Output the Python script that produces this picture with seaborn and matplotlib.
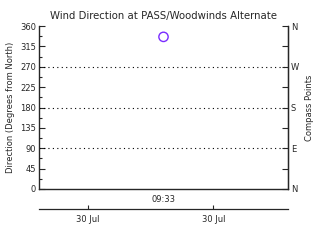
import matplotlib
matplotlib.use("Agg")
import matplotlib.pyplot as plt
import seaborn as sns
import pandas as pd
from matplotlib.ticker import MultipleLocator

# data
obs_minutes = [573]          # 09:33 expressed in minutes after midnight
obs_labels = ["09:33"]
directions = [336]
date_tick_minutes = [566.9, 577.0]
date_tick_labels = ["30 Jul", "30 Jul"]
y_ticks = [0, 45, 90, 135, 180, 225, 270, 315, 360]
compass_ticks = [0, 90, 180, 270, 360]
compass_labels = ["N", "E", "S", "W", "N"]

sns.set_style("ticks")
plt.rcParams['font.family'] = ['DejaVu Sans']

df = pd.DataFrame({"t": obs_minutes, "dir": directions})

fig = plt.figure(figsize=(3.2, 2.4), dpi=100)
ax = fig.add_axes([39/320, 1-189/240, 249/320, 163/240])

sns.scatterplot(data=df, x="t", y="dir", ax=ax, marker="o", s=45,
                facecolor="none", edgecolor="#7a2cff", linewidth=1.0, legend=False)

ax.set_xlim(563, 583)
ax.set_ylim(0, 360)
ax.set_yticks(y_ticks)
ax.yaxis.set_minor_locator(MultipleLocator(22.5))
ax.set_xticks(obs_minutes)
ax.set_xticklabels(obs_labels)
ax.tick_params(axis="x", length=0, labelsize=6, pad=4)
ax.tick_params(axis="y", which="major", direction="in", length=4, labelsize=6, pad=2, width=0.8)
ax.tick_params(axis="y", which="minor", direction="in", length=2, width=0.8)
for v in [90, 180, 270]:
    ax.axhline(v, color="black", linestyle=(0, (1, 3)), linewidth=0.8)

ax.spines["top"].set_visible(False)
for s in ["left", "right", "bottom"]:
    ax.spines[s].set_linewidth(0.9)
    ax.spines[s].set_color("black")

ax.set_xlabel("")
ax.set_ylabel("Direction (Degrees from North)", fontsize=6, labelpad=4)
ax.set_title("Wind Direction at PASS/Woodwinds Alternate", fontsize=7.3, pad=5)

ax2 = ax.twinx()
ax2.set_ylim(0, 360)
ax2.set_yticks(compass_ticks)
ax2.set_yticklabels(compass_labels)
ax2.yaxis.set_minor_locator(MultipleLocator(45))
ax2.tick_params(axis="y", which="major", direction="in", length=4, labelsize=6, pad=2, width=0.8)
ax2.tick_params(axis="y", which="minor", direction="in", length=4, width=0.8)
ax2.set_ylabel("Compass Points", fontsize=6, labelpad=4)
ax2.spines["top"].set_visible(False)
ax2.spines["right"].set_linewidth(0.9)

sec = ax.secondary_xaxis(-20/163)
sec.set_xticks(date_tick_minutes)
sec.set_xticklabels(date_tick_labels)
sec.tick_params(axis="x", direction="in", length=3, labelsize=6, pad=4, width=0.8)
sec.spines["bottom"].set_linewidth(0.9)

fig.savefig("out.png", dpi=100)
